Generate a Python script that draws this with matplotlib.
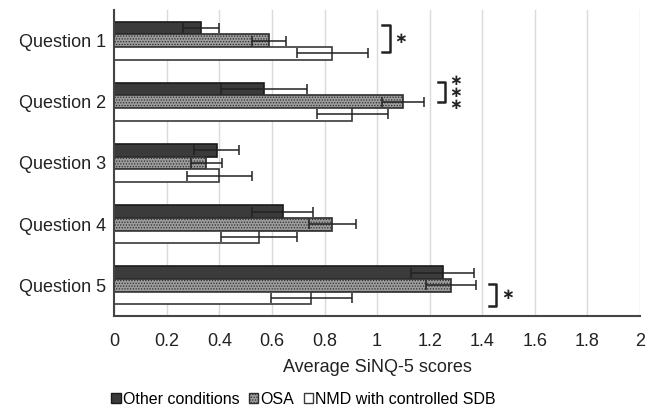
import numpy as np
import matplotlib
matplotlib.use("Agg")
import matplotlib.pyplot as plt
from matplotlib.patches import Patch

plt.rcParams['font.family'] = ['Liberation Sans', 'DejaVu Sans']
plt.rcParams['hatch.linewidth'] = 0.6

# data
questions = ["Question 1", "Question 2", "Question 3", "Question 4", "Question 5"]
series = ["Other conditions", "OSA", "NMD with controlled SDB"]
other_mean = [0.33, 0.57, 0.39, 0.64, 1.25]
other_err = [0.07, 0.165, 0.085, 0.115, 0.12]
osa_mean = [0.59, 1.10, 0.35, 0.83, 1.28]
osa_err = [0.065, 0.08, 0.06, 0.09, 0.095]
nmd_mean = [0.83, 0.905, 0.40, 0.55, 0.75]
nmd_err = [0.135, 0.135, 0.125, 0.145, 0.155]
xticks = [0, 0.2, 0.4, 0.6, 0.8, 1, 1.2, 1.4, 1.6, 1.8, 2]
xticklabels = ["0", "0.2", "0.4", "0.6", "0.8", "1", "1.2", "1.4", "1.6", "1.8", "2"]

# significance marks: (question index, bracket x, y top offset, y bottom offset, stars)
sig = [(0, 1.02, -0.26, 0.18, "*"), (1, 1.23, -0.33, 0.01, "***"), (4, 1.425, -0.03, 0.34, "*")]

fig = plt.figure(figsize=(6.55, 4.08), dpi=100)
ax = fig.add_axes([0.1745, 0.2255, 0.8025, 0.75])

y = np.arange(len(questions))
h = 0.207

styles = [
    dict(color="#3b3b3b", edgecolor="#1a1a1a", hatch=None),
    dict(color="#9c9c9c", edgecolor="#2e2e2e", hatch="......"),
    dict(color="white", edgecolor="#3a3a3a", hatch=None),
]
means = [other_mean, osa_mean, nmd_mean]
errs = [other_err, osa_err, nmd_err]

for k in range(3):
    st = styles[k]
    ax.barh(y + (k - 1) * h, means[k], height=h, color=st["color"],
            edgecolor=st["edgecolor"], hatch=st["hatch"], linewidth=1.2, zorder=2)
    ax.errorbar(means[k], y + (k - 1) * h, xerr=errs[k], fmt="none",
                ecolor="#222222", elinewidth=1.1, capsize=3.5, capthick=1.1, zorder=3)

# significance brackets
for qi, bx, yt, yb, stars in sig:
    w = 0.028
    ax.plot([bx, bx + w, bx + w, bx], [qi + yt, qi + yt, qi + yb, qi + yb],
            color="#222222", lw=1.8, clip_on=False, zorder=4)
    star_txt = "\n".join(["\u2217"] * len(stars))
    ax.text(bx + w + 0.018, qi + (yt + yb) / 2, star_txt, fontsize=11,
            family="DejaVu Sans", fontweight="bold", linespacing=0.75,
            ha="left", va="center", color="#222222")

ax.set_xlim(0, 2)
ax.set_ylim(len(questions) - 0.5, -0.5)
ax.set_xticks(xticks)
ax.set_xticklabels(xticklabels)
ax.set_yticks(y)
ax.set_yticklabels(questions)
ax.tick_params(length=0, labelsize=13, colors="#222222", pad=6)
ax.tick_params(axis="x", pad=12)
ax.xaxis.grid(True, color="#dadada", lw=1.0, zorder=0)
ax.set_axisbelow(True)
for s in ["top", "right"]:
    ax.spines[s].set_visible(False)
for s in ["left", "bottom"]:
    ax.spines[s].set_color("#444444")
    ax.spines[s].set_linewidth(1.5)
ax.set_xlabel("Average SiNQ-5 scores", fontsize=13, color="#222222", labelpad=7)

handles = [Patch(facecolor=st["color"], edgecolor=st["edgecolor"], hatch=st["hatch"], lw=1)
           for st in styles]
fig.legend(handles, series, loc="lower left", bbox_to_anchor=(0.155, -0.02), ncol=3,
           frameon=False, fontsize=11.5, handlelength=0.6, handleheight=0.6,
           handletextpad=0.12, columnspacing=0.6, borderaxespad=0.2)

fig.savefig("out.png", dpi=100)
